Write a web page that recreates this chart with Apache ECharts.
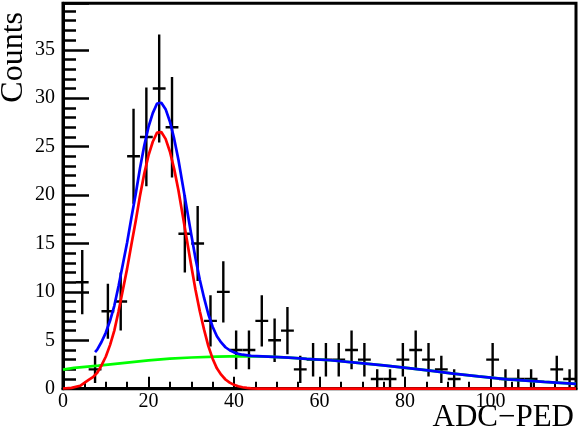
<!DOCTYPE html>
<html><head><meta charset="utf-8">
<script src="https://cdn.jsdelivr.net/npm/echarts@6/dist/echarts.min.js"></script>
<style>html,body{margin:0;padding:0;background:#fff}#c{width:581px;height:432px}</style>
</head><body><div id="c"></div>
<script>
// Histogram (40 bins of width 3 from 0 to 120)
const binCenters = [1.5,4.5,7.5,10.5,13.5,16.5,19.5,22.5,25.5,28.5,31.5,34.5,37.5,40.5,43.5,46.5,49.5,52.5,55.5,58.5,
  61.5,64.5,67.5,70.5,73.5,76.5,79.5,82.5,85.5,88.5,91.5,94.5,97.5,100.5,103.5,106.5,109.5,112.5,115.5,118.5];
const counts = [0,11,2,8,9,24,26,31,27,16,15,7,10,4,4,7,5,6,2,3,
  3,3,4,3,1,1,3,4,3,2,1,0,0,3,1,1,1,0,2,1];
const errors = [0,3.32,1.41,2.83,3,4.9,5.1,5.57,5.2,4,3.87,2.65,3.16,2,2,2.65,2.24,2.45,1.41,1.73,
  1.73,1.73,2,1.73,1,1,1.73,2,1.73,1.41,1,0,0,1.73,1,1,1,0,1.41,1];
const binHalfWidth = 1.5;

// Fit curves
const redX = [0,2,4,6,7,8,9,10,11,12,13,14,15,16,17,18,19,20,21,22,23,24,25,26,27,28,29,30,31,32,33,34,35,36,37,38,39,40,41,42,43,44,46,120];
const redY = [0.02,0.08,0.3,0.9,1.2,1.65,2.4,3.3,4.5,6.0,8.0,10.2,12.4,14.9,17.3,19.9,22.2,24.1,25.5,26.45,26.5,25.8,24.5,22.7,20.5,17.9,15.3,12.7,10.2,8.0,6.1,4.4,3.1,2.1,1.45,0.95,0.63,0.4,0.25,0.15,0.08,0.04,0.01,0];
const greenX = [0,2.6,8.3,13.9,20,25,30,36,42,48,52.8,57,62.5,69,75,80.8,86.8,91.3,97.2,104,112.6,120];
const greenY = [1.97,2.15,2.39,2.65,2.93,3.1,3.22,3.32,3.36,3.32,3.2,3.08,2.94,2.67,2.41,2.12,1.82,1.56,1.27,0.97,0.7,0.5];
const blueX = [7.5,8,9,10,11,12,13,14,15,16,17,18,19,20,21,22,23,24,25,26,27,28,29,30,31,32,33,34,35,36,37,38,39,40,41,42,44,48,52.8,57,62.5,69,75,80.8,86.8,91.3,97.2,104,112.6,120];
const blueY = [3.78,4.03,4.82,5.77,7.01,8.56,10.61,12.85,15.1,17.65,20.09,22.74,25.08,27.03,28.46,29.45,29.53,28.87,27.6,25.82,23.65,21.07,18.5,15.92,13.44,11.25,9.37,7.69,6.4,5.42,4.78,4.28,3.97,3.75,3.6,3.51,3.39,3.32,3.2,3.08,2.94,2.67,2.41,2.12,1.82,1.56,1.27,0.97,0.7,0.5];

const xTitle = 'ADC\u2212PED';
const yTitle = 'Counts';

const zip = (a, b) => a.map((v, i) => [v, b[i]]);
const histData = binCenters.map((c, i) => [c, counts[i], errors[i]]).filter(d => d[1] > 0);

const chart = echarts.init(document.getElementById('c'), null, {renderer: 'canvas'});
const font = 'Liberation Serif';
chart.setOption({
  animation: false,
  backgroundColor: '#fff',
  grid: {left: 63, right: 5, top: 3.3, bottom: 43.3, show: true, borderColor: '#000', borderWidth: 3, backgroundColor: 'transparent'},
  xAxis: {
    type: 'value', min: 0, max: 120, interval: 20,
    axisLine: {show: true, onZero: false, lineStyle: {color: '#000', width: 3}},
    axisTick: {show: true, inside: true, length: 12, lineStyle: {color: '#000', width: 2}},
    minorTick: {show: true, splitNumber: 4, length: 7, lineStyle: {color: '#000', width: 2}},
    splitLine: {show: false},
    axisLabel: {margin: 3, color: '#000', fontFamily: font, fontSize: 20,
      formatter: v => (v === 120 ? '' : String(v))}
  },
  yAxis: {
    type: 'value', min: 0, max: 39.8, interval: 5,
    axisLine: {show: true, onZero: false, lineStyle: {color: '#000', width: 3}},
    axisTick: {show: true, inside: true, length: 26, lineStyle: {color: '#000', width: 2.5}},
    minorTick: {show: true, splitNumber: 5, length: 13, lineStyle: {color: '#000', width: 2.5}},
    splitLine: {show: false},
    axisLabel: {margin: 8, color: '#000', fontFamily: font, fontSize: 20,
      formatter: v => (Math.abs(v % 5) < 1e-9 ? String(v) : '')}
  },
  graphic: [
    {type: 'text', x: 14, y: 12, rotation: Math.PI / 2,
     style: {text: yTitle, font: '32px "Liberation Serif"', fill: '#000', textAlign: 'right', textVerticalAlign: 'middle', align: 'right', verticalAlign: 'middle'}},
    {type: 'text', x: 574, y: 418,
     style: {text: xTitle, font: '31px "Liberation Serif"', fill: '#000', textAlign: 'right', textVerticalAlign: 'middle', align: 'right', verticalAlign: 'middle'}}
  ],
  series: [
    {
      type: 'custom', z: 2, clip: true,
      data: histData,
      renderItem: function (params, api) {
        const x = api.value(0), y = api.value(1), e = api.value(2);
        const pL = api.coord([x - binHalfWidth, y]);
        const pR = api.coord([x + binHalfWidth, y]);
        const pT = api.coord([x, y + e]);
        const pB = api.coord([x, y - e]);
        const st = {stroke: '#000', lineWidth: 2.4};
        return {type: 'group', children: [
          {type: 'line', shape: {x1: pL[0], y1: pL[1], x2: pR[0], y2: pR[1]}, style: st},
          {type: 'line', shape: {x1: pT[0], y1: pT[1], x2: pB[0], y2: pB[1]}, style: st}
        ]};
      }
    },
    {type: 'line', z: 3, data: zip(greenX, greenY), symbol: 'none', lineStyle: {color: '#00ff00', width: 2.7}},
    {type: 'line', z: 4, data: zip(blueX, blueY), symbol: 'none', lineStyle: {color: '#0000ff', width: 2.7}},
    {type: 'line', z: 5, data: zip(redX, redY), symbol: 'none', lineStyle: {color: '#ff0000', width: 2.7}}
  ]
});
</script></body></html>
